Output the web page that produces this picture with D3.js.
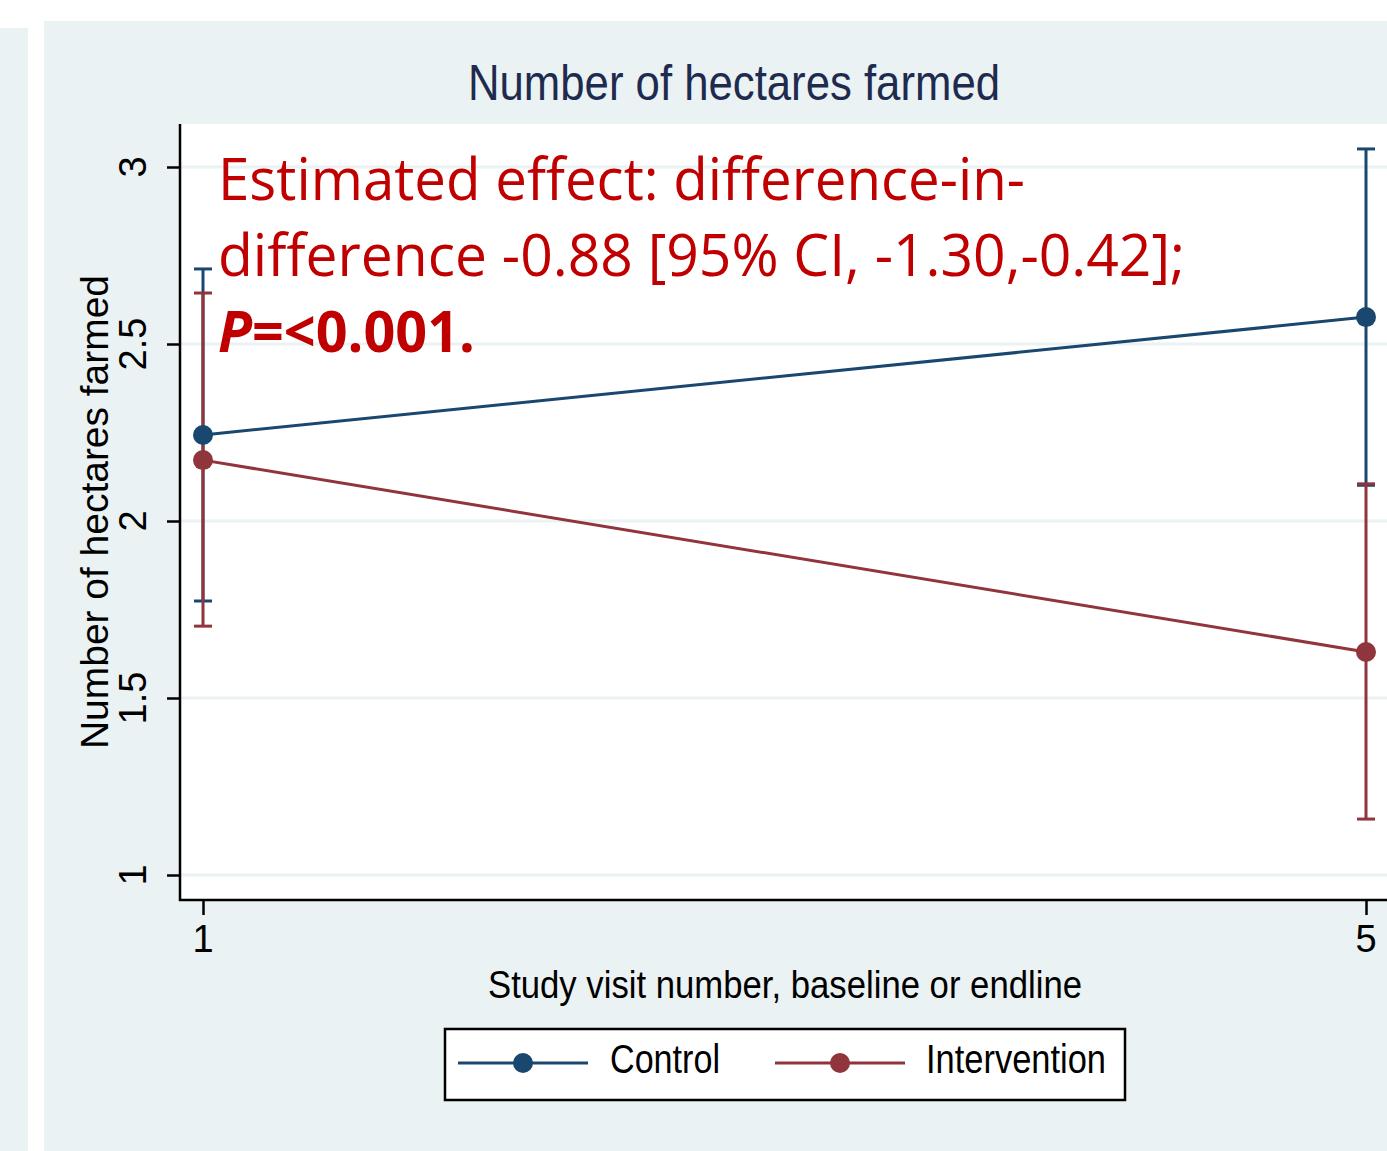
<!DOCTYPE html>
<html>
<head>
<meta charset="utf-8">
<script src="https://cdn.jsdelivr.net/npm/d3@7"></script>
<style>
  body { margin: 0; background: #ffffff; }
  svg { display: block; }
  .narrow { font-family: "Liberation Sans Narrow", "Arial Narrow", "Liberation Sans", Arial, sans-serif; }
</style>
</head>
<body>
<svg id="chart" width="1387" height="1151"></svg>
<script>
// visits on the x axis
var visits = [1, 5];
// group means and 95% CI
var groups = ["Control", "Intervention"];
var controlMean = [2.243, 2.576];
var controlLow = [1.774, 2.101];
var controlHigh = [2.712, 3.051];
var interventionMean = [2.172, 1.630];
var interventionLow = [1.703, 1.158];
var interventionHigh = [2.644, 2.105];
var yTicks = [1, 1.5, 2, 2.5, 3];
var yTickLabels = ["1", "1.5", "2", "2.5", "3"];

var colors = { Control: "#1a476f", Intervention: "#90353b" };
var bg = "#eaf2f3";

var svg = d3.select("#chart");

// outer backgrounds
svg.append("rect").attr("x", 0).attr("y", 28).attr("width", 28).attr("height", 1123).attr("fill", bg);
svg.append("rect").attr("x", 44).attr("y", 21).attr("width", 1343).attr("height", 1130).attr("fill", bg);

var plot = { left: 180, top: 124, right: 1387, bottom: 900 };
svg.append("rect")
  .attr("x", plot.left).attr("y", plot.top)
  .attr("width", plot.right - plot.left).attr("height", plot.bottom - plot.top)
  .attr("fill", "#ffffff");

var x = d3.scaleLinear().domain([1, 5]).range([203, 1366]);
var y = d3.scaleLinear().domain([1, 3]).range([875, 167]);

// gridlines
svg.append("g").selectAll("line")
  .data(yTicks)
  .enter()
  .append("line")
    .attr("x1", plot.left).attr("x2", plot.right)
    .attr("y1", function(d) { return y(d); })
    .attr("y2", function(d) { return y(d); })
    .attr("stroke", bg)
    .attr("stroke-width", 3);

// y axis
var yAxis = svg.append("g")
  .attr("transform", "translate(" + plot.left + ",0)")
  .call(d3.axisLeft(y).tickValues(yTicks).tickSize(13).tickFormat(""));
yAxis.select(".domain").remove();
yAxis.selectAll(".tick line").attr("stroke", "#000").attr("stroke-width", 2.5);
svg.append("line")
  .attr("x1", plot.left).attr("x2", plot.left)
  .attr("y1", plot.top).attr("y2", plot.bottom + 1)
  .attr("stroke", "#000").attr("stroke-width", 2.5);

svg.append("g").selectAll("text")
  .data(yTicks)
  .enter()
  .append("text")
    .attr("class", "narrow")
    .attr("transform", function(d) { return "translate(146," + y(d) + ") rotate(-90)"; })
    .attr("text-anchor", "middle")
    .style("font-size", "38px")
    .attr("fill", "#000")
    .text(function(d, i) { return yTickLabels[i]; });

// x axis
var xAxis = svg.append("g")
  .attr("transform", "translate(0," + plot.bottom + ")")
  .call(d3.axisBottom(x).tickValues(visits).tickSize(15).tickFormat(""));
xAxis.select(".domain").remove();
xAxis.selectAll(".tick line").attr("stroke", "#000").attr("stroke-width", 2.5);
svg.append("line")
  .attr("x1", plot.left - 1).attr("x2", plot.right)
  .attr("y1", plot.bottom).attr("y2", plot.bottom)
  .attr("stroke", "#000").attr("stroke-width", 2.5);

svg.append("g").selectAll("text")
  .data(visits)
  .enter()
  .append("text")
    .attr("class", "narrow")
    .attr("x", function(d) { return x(d); })
    .attr("y", 952)
    .attr("text-anchor", "middle")
    .style("font-size", "38px")
    .text(function(d) { return d; });

// titles
svg.append("text")
  .attr("class", "narrow")
  .attr("x", 734).attr("y", 100)
  .attr("text-anchor", "middle")
  .style("font-size", "50px")
  .attr("fill", "#1e2b4f")
  .attr("textLength", 532).attr("lengthAdjust", "spacingAndGlyphs")
  .text("Number of hectares farmed");

svg.append("text")
  .attr("class", "narrow")
  .attr("x", 785).attr("y", 998)
  .attr("text-anchor", "middle")
  .style("font-size", "38px")
  .attr("textLength", 594).attr("lengthAdjust", "spacingAndGlyphs")
  .text("Study visit number, baseline or endline");

svg.append("text")
  .attr("class", "narrow")
  .attr("transform", "translate(108,512) rotate(-90)")
  .attr("text-anchor", "middle")
  .style("font-size", "38px")
  .attr("textLength", 474).attr("lengthAdjust", "spacingAndGlyphs")
  .text("Number of hectares farmed");

// series
var series = [
  { name: "Control", mean: controlMean, low: controlLow, high: controlHigh },
  { name: "Intervention", mean: interventionMean, low: interventionLow, high: interventionHigh }
];

series.forEach(function(s) {
  var g = svg.append("g");
  var c = colors[s.name];
  visits.forEach(function(v, i) {
    g.append("line")
      .attr("x1", x(v)).attr("x2", x(v))
      .attr("y1", y(s.low[i])).attr("y2", y(s.high[i]))
      .attr("stroke", c).attr("stroke-width", 3);
    [s.low[i], s.high[i]].forEach(function(e) {
      g.append("line")
        .attr("x1", x(v) - 9).attr("x2", x(v) + 9)
        .attr("y1", y(e)).attr("y2", y(e))
        .attr("stroke", c).attr("stroke-width", 3);
    });
  });
});

series.forEach(function(s) {
  var c = colors[s.name];
  var line = d3.line()
    .x(function(d, i) { return x(visits[i]); })
    .y(function(d) { return y(d); });
  svg.append("path")
    .datum(s.mean)
    .attr("d", line)
    .attr("fill", "none")
    .attr("stroke", c)
    .attr("stroke-width", 3);
  svg.selectAll(null)
    .data(s.mean)
    .enter()
    .append("circle")
      .attr("cx", function(d, i) { return x(visits[i]); })
      .attr("cy", function(d) { return y(d); })
      .attr("r", 10)
      .attr("fill", c);
});

// annotation
var note = svg.append("g")
  .style("font-family", "'Open Sans', 'Noto Sans', sans-serif")
  .attr("fill", "#c00000");
note.append("text")
  .attr("x", 218).attr("y", 200)
  .style("font-size", "58px")
  .attr("textLength", 807).attr("lengthAdjust", "spacingAndGlyphs")
  .text("Estimated effect: difference-in-");
note.append("text")
  .attr("x", 218).attr("y", 276)
  .style("font-size", "58px")
  .attr("textLength", 967).attr("lengthAdjust", "spacingAndGlyphs")
  .text("difference -0.88 [95% CI, -1.30,-0.42];");
var p = note.append("text")
  .attr("x", 218).attr("y", 352)
  .style("font-size", "58px")
  .style("font-weight", "bold")
  .attr("textLength", 257).attr("lengthAdjust", "spacingAndGlyphs");
p.append("tspan").style("font-style", "italic").text("P");
p.append("tspan").text("=<0.001.");

// legend
var legend = svg.append("g");
legend.append("rect")
  .attr("x", 445).attr("y", 1029)
  .attr("width", 680).attr("height", 71)
  .attr("fill", "#fff").attr("stroke", "#000").attr("stroke-width", 2.5);
var legendItems = [
  { name: "Control", x0: 458, tx: 610, tw: 110 },
  { name: "Intervention", x0: 775, tx: 926, tw: 180 }
];
legendItems.forEach(function(d) {
  var c = colors[d.name];
  legend.append("line")
    .attr("x1", d.x0).attr("x2", d.x0 + 130)
    .attr("y1", 1063).attr("y2", 1063)
    .attr("stroke", c).attr("stroke-width", 3);
  legend.append("circle")
    .attr("cx", d.x0 + 65).attr("cy", 1063).attr("r", 10)
    .attr("fill", c);
  legend.append("text")
    .attr("class", "narrow")
    .attr("x", d.tx).attr("y", 1073)
    .style("font-size", "40px")
    .attr("textLength", d.tw).attr("lengthAdjust", "spacingAndGlyphs")
    .text(d.name);
});
</script>
</body>
</html>
